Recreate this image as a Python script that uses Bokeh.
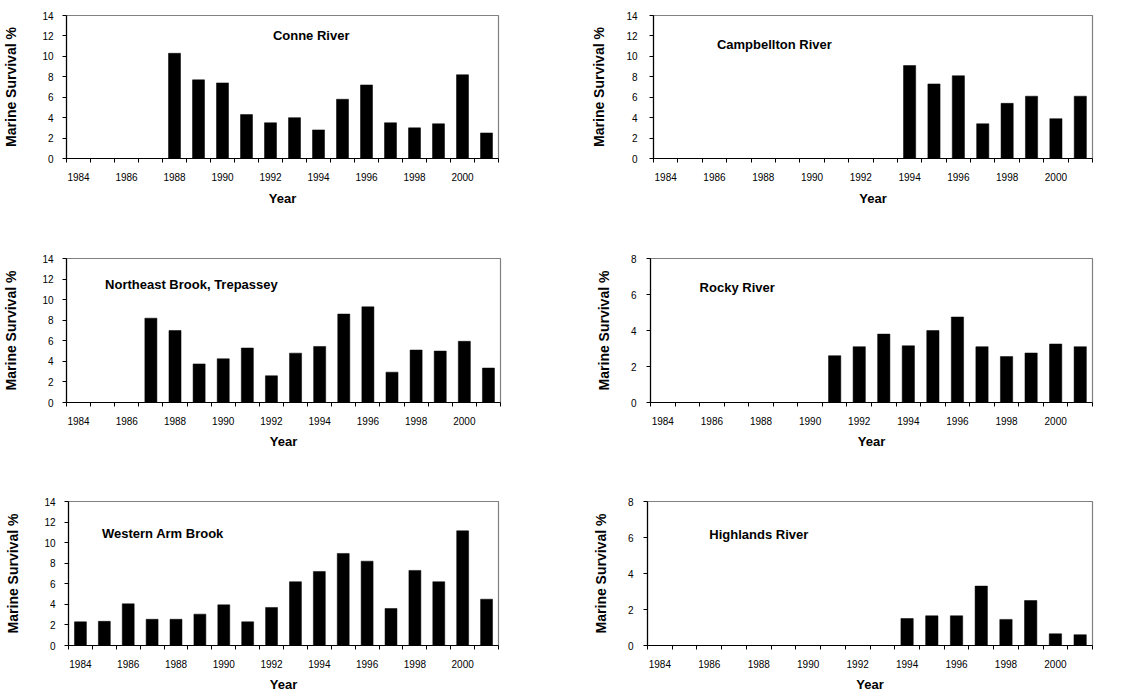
from bokeh.plotting import figure
from bokeh.layouts import column, row
from bokeh.models import Range1d, FixedTicker, Label
from bokeh.embed import file_html
from bokeh.resources import INLINE

# ---------------- data ----------------
label_years = [1984, 1986, 1988, 1990, 1992, 1994, 1996, 1998, 2000]
first_year, last_year = 1984, 2001

conne_years = [1988, 1989, 1990, 1991, 1992, 1993, 1994, 1995, 1996, 1997, 1998, 1999, 2000, 2001]
conne_vals = [10.3, 7.7, 7.4, 4.3, 3.5, 4.0, 2.8, 5.8, 7.2, 3.5, 3.0, 3.4, 8.2, 2.5]

camp_years = [1994, 1995, 1996, 1997, 1998, 1999, 2000, 2001]
camp_vals = [9.1, 7.3, 8.1, 3.4, 5.4, 6.1, 3.9, 6.1]

ne_years = [1987, 1988, 1989, 1990, 1991, 1992, 1993, 1994, 1995, 1996, 1997, 1998, 1999, 2000, 2001]
ne_vals = [8.2, 7.0, 3.75, 4.25, 5.3, 2.6, 4.8, 5.45, 8.6, 9.3, 2.95, 5.1, 5.0, 5.95, 3.35]

rocky_years = [1991, 1992, 1993, 1994, 1995, 1996, 1997, 1998, 1999, 2000, 2001]
rocky_vals = [2.6, 3.1, 3.8, 3.15, 4.0, 4.75, 3.1, 2.55, 2.75, 3.25, 3.1]

wab_years = [1984, 1985, 1986, 1987, 1988, 1989, 1990, 1991, 1992, 1993, 1994, 1995, 1996, 1997, 1998, 1999, 2000, 2001]
wab_vals = [2.3, 2.35, 4.05, 2.55, 2.55, 3.05, 3.95, 2.3, 3.7, 6.2, 7.2, 8.95, 8.2, 3.6, 7.3, 6.2, 11.15, 4.5]

hl_years = [1994, 1995, 1996, 1997, 1998, 1999, 2000, 2001]
hl_vals = [1.5, 1.65, 1.65, 3.3, 1.45, 2.5, 0.65, 0.6]

y_ticks_14 = [0, 2, 4, 6, 8, 10, 12, 14]
y_ticks_8 = [0, 2, 4, 6, 8]

FONT = "Liberation Sans"


def make(years, vals, ymax, yticks, title, tx, ty, width, height,
         bl, br, bt, bb, xstand, xlab_stand, ystand=8, ylab_stand=16):
    p = figure(width=width, height=height, output_backend="svg", toolbar_location=None,
               x_range=Range1d(first_year - 0.5, last_year + 0.5),
               y_range=Range1d(0, ymax),
               min_border_left=bl, min_border_right=br,
               min_border_top=bt, min_border_bottom=bb)
    p.vbar(x=years, top=vals, width=0.5, fill_color="black", line_color="black", line_width=0.5)
    p.xgrid.visible = False
    p.ygrid.visible = False
    p.outline_line_color = "#808080"
    p.outline_line_width = 1.2
    p.background_fill_color = "white"
    p.border_fill_color = "white"

    bounds = [first_year - 0.5 + i for i in range(last_year - first_year + 2)]
    xa = p.xaxis[0]
    xa.ticker = FixedTicker(ticks=label_years, minor_ticks=bounds)
    xa.major_tick_out = 0
    xa.major_tick_in = 0
    xa.minor_tick_out = 4
    xa.minor_tick_in = 0
    xa.minor_tick_line_color = "black"
    xa.axis_line_color = "black"
    xa.axis_line_width = 1.2
    xa.major_label_text_font = FONT
    xa.major_label_text_font_size = "10px"
    xa.major_label_text_color = "black"
    xa.major_label_standoff = xstand
    xa.axis_label = "Year"
    xa.axis_label_text_font = FONT
    xa.axis_label_text_font_size = "13px"
    xa.axis_label_text_font_style = "bold"
    xa.axis_label_text_color = "black"
    xa.axis_label_standoff = xlab_stand

    ya = p.yaxis[0]
    ya.ticker = FixedTicker(ticks=yticks)
    ya.major_tick_out = 4
    ya.major_tick_in = 0
    ya.minor_tick_out = 0
    ya.minor_tick_in = 0
    ya.major_tick_line_color = "black"
    ya.axis_line_color = "black"
    ya.axis_line_width = 1.2
    ya.major_label_text_font = FONT
    ya.major_label_text_font_size = "10px"
    ya.major_label_text_color = "black"
    ya.major_label_standoff = ystand
    ya.axis_label = "Marine Survival %"
    ya.axis_label_text_font = FONT
    ya.axis_label_text_font_size = "14px"
    ya.axis_label_text_font_style = "bold"
    ya.axis_label_text_color = "black"
    ya.axis_label_standoff = ylab_stand

    p.add_layout(Label(x=tx, y=ty, text=title, text_font=FONT, text_font_size="13px",
                       text_font_style="bold", text_baseline="middle", text_align="left",
                       text_color="black"))
    return p


p1 = make(conne_years, conne_vals, 14, y_ticks_14, "Conne River", 1992.1, 12.0,
          570, 225, 66, 72, 15, 67, 10, 7, ystand=9, ylab_stand=20)
p2 = make(camp_years, camp_vals, 14, y_ticks_14, "Campbellton River", 1986.1, 11.2,
          565, 225, 83, 43, 15, 62, 10, 7, ystand=12)
p3 = make(ne_years, ne_vals, 14, y_ticks_14, "Northeast Brook, Trepassey", 1985.1, 11.5,
          570, 240, 66, 70, 29, 63, 10, 6, ystand=9, ylab_stand=20)
p4 = make(rocky_years, rocky_vals, 8, y_ticks_8, "Rocky River", 1985.5, 6.37,
          565, 240, 80, 43, 33, 60, 10, 6, ystand=10)
p5 = make(wab_years, wab_vals, 14, y_ticks_14, "Western Arm Brook", 1984.9, 10.85,
          570, 231, 68, 72, 32, 51, 10, 6, ystand=9, ylab_stand=20)
p6 = make(hl_years, hl_vals, 8, y_ticks_8, "Highlands River", 1986.0, 6.18,
          565, 231, 77, 43, 36, 47, 10, 6, ystand=10)

layout = column(row(p1, p2), row(p3, p4), row(p5, p6))

with open("out.html", "w") as f:
    f.write(file_html(layout, INLINE))
